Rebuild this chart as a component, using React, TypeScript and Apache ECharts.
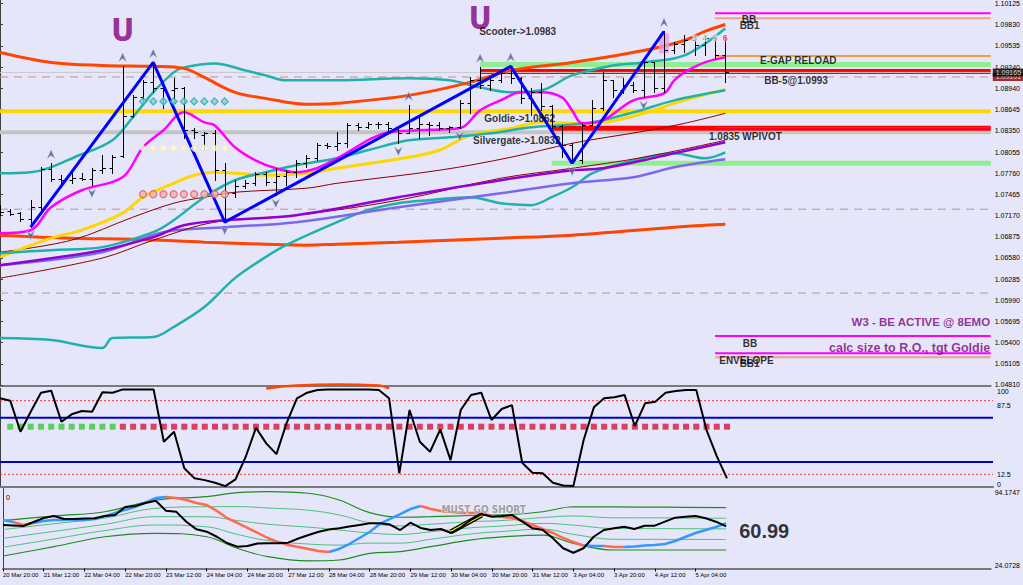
import React, { useEffect, useRef } from 'react';
import * as echarts from 'echarts';

// ---------- DATA ----------
const timeLabels = ['20 Mar 20:00', '21 Mar 12:00', '22 Mar 04:00', '22 Mar 20:00', '23 Mar 12:00', '24 Mar 04:00', '24 Mar 20:00', '27 Mar 12:00', '28 Mar 04:00', '28 Mar 20:00', '29 Mar 12:00', '30 Mar 04:00', '30 Mar 20:00', '31 Mar 12:00', '3 Apr 04:00', '3 Apr 20:00', '4 Apr 12:00', '5 Apr 04:00'];
const barsPerTimeLabel = 4;

const priceTicks = [1.04810, 1.05105, 1.05400, 1.05695, 1.05990, 1.06285, 1.06580, 1.06875, 1.07170, 1.07465, 1.07760, 1.08055, 1.08350, 1.08645, 1.08940, 1.09240, 1.09535, 1.09830, 1.10125];

// [open, high, low, close] H4 bars
const ohlc = [
  [1.07245, 1.07314, 1.07175, 1.07217], [1.07231, 1.07259, 1.07175, 1.07189], [1.07203, 1.07217, 1.07091, 1.07119], [1.07119, 1.07384, 1.07008, 1.07286],
  [1.07286, 1.07843, 1.07217, 1.07815], [1.07815, 1.07899, 1.07648, 1.07676], [1.07676, 1.07732, 1.07579, 1.07662], [1.07662, 1.07760, 1.07620, 1.07690],
  [1.07690, 1.07760, 1.07662, 1.07676], [1.07676, 1.07829, 1.07593, 1.07801], [1.07801, 1.08010, 1.07760, 1.07829], [1.07829, 1.08010, 1.07760, 1.07982],
  [1.07996, 1.09249, 1.07982, 1.08553], [1.08553, 1.08845, 1.08539, 1.08817], [1.08817, 1.09054, 1.08734, 1.09026], [1.09026, 1.09304, 1.08887, 1.08942],
  [1.08942, 1.09026, 1.08664, 1.08915], [1.08915, 1.09082, 1.08734, 1.08942], [1.08942, 1.08956, 1.08247, 1.08358], [1.08358, 1.08386, 1.08247, 1.08330],
  [1.08288, 1.08330, 1.08080, 1.08316], [1.08316, 1.08358, 1.07662, 1.07801], [1.07801, 1.07899, 1.07078, 1.07481], [1.07481, 1.07662, 1.07426, 1.07579],
  [1.07579, 1.07662, 1.07551, 1.07620], [1.07620, 1.07774, 1.07593, 1.07746], [1.07746, 1.07774, 1.07593, 1.07634], [1.07634, 1.07829, 1.07454, 1.07718],
  [1.07718, 1.07801, 1.07593, 1.07774], [1.07774, 1.07940, 1.07704, 1.07899], [1.07899, 1.08010, 1.07843, 1.07968], [1.07968, 1.08177, 1.07940, 1.08149],
  [1.08149, 1.08177, 1.08107, 1.08135], [1.08135, 1.08330, 1.08080, 1.08177], [1.08177, 1.08455, 1.08121, 1.08428], [1.08428, 1.08455, 1.08358, 1.08400],
  [1.08400, 1.08469, 1.08386, 1.08441], [1.08441, 1.08469, 1.08386, 1.08441], [1.08441, 1.08469, 1.08330, 1.08386], [1.08386, 1.08400, 1.08177, 1.08316],
  [1.08316, 1.08706, 1.08316, 1.08386], [1.08386, 1.08567, 1.08247, 1.08441], [1.08441, 1.08469, 1.08288, 1.08428], [1.08428, 1.08469, 1.08358, 1.08386],
  [1.08386, 1.08414, 1.08330, 1.08400], [1.08400, 1.08775, 1.08386, 1.08734], [1.08734, 1.09095, 1.08594, 1.09054], [1.09054, 1.09235, 1.08942, 1.08984],
  [1.08984, 1.09095, 1.08915, 1.09054], [1.09054, 1.09193, 1.09026, 1.09151], [1.09151, 1.09249, 1.09012, 1.09082], [1.09082, 1.09095, 1.08734, 1.08803],
  [1.08803, 1.08942, 1.08567, 1.08887], [1.08887, 1.09012, 1.08636, 1.08692], [1.08692, 1.08706, 1.08386, 1.08414], [1.08414, 1.08428, 1.07982, 1.08149],
  [1.08149, 1.08177, 1.07899, 1.07940], [1.07940, 1.08455, 1.07899, 1.08428], [1.08428, 1.08775, 1.08428, 1.08664], [1.08664, 1.09165, 1.08636, 1.09054],
  [1.09054, 1.09054, 1.08817, 1.08915], [1.08915, 1.09082, 1.08873, 1.08984], [1.08984, 1.09026, 1.08887, 1.08915], [1.08915, 1.09332, 1.08817, 1.09304],
  [1.09304, 1.09304, 1.08887, 1.08942], [1.08942, 1.09736, 1.08887, 1.09471], [1.09471, 1.09583, 1.09429, 1.09555], [1.09555, 1.09680, 1.09443, 1.09610],
  [1.09610, 1.09680, 1.09402, 1.09541], [1.09541, 1.09680, 1.09402, 1.09638], [1.09638, 1.09652, 1.09360, 1.09402], [1.09402, 1.09680, 1.09026, 1.09165],
];

// main-chart indicator lines: [bar, price]
const envUpper = [[0, 1.09443], [5, 1.09304], [10, 1.09262], [15, 1.09249], [18, 1.09221], [20, 1.09095], [23, 1.08887], [26, 1.08803], [30, 1.08720], [33, 1.08734], [40, 1.08845], [46, 1.09026], [50, 1.09193], [56, 1.09304], [63, 1.09471], [67, 1.09610], [69, 1.09736], [71, 1.09833]];
const envLower = [[0, 1.06897], [7, 1.06855], [13, 1.06841], [20, 1.06799], [26, 1.06771], [30, 1.06758], [33, 1.06771], [39, 1.06799], [49, 1.06855], [56, 1.06897], [66, 1.07008], [71, 1.07050]];
const bbUpper = [[0, 1.07760], [3, 1.07774], [8, 1.08024], [11, 1.08219], [13, 1.08539], [15, 1.08887], [17, 1.09165], [18, 1.09235], [21, 1.09290], [24, 1.09193], [26, 1.09123], [28, 1.09054], [33, 1.09054], [40, 1.09082], [44, 1.09054], [47, 1.08956], [50, 1.08887], [53, 1.08915], [56, 1.09123], [60, 1.09262], [63, 1.09304], [67, 1.09402], [71, 1.09777]];
const bbMiddle = [[0, 1.06646], [5, 1.06688], [10, 1.06730], [15, 1.06939], [17, 1.07105], [20, 1.07426], [23, 1.07662], [26, 1.07774], [29, 1.07871], [33, 1.07968], [36, 1.08080], [40, 1.08219], [44, 1.08261], [48, 1.08316], [52, 1.08400], [55, 1.08428], [58, 1.08469], [62, 1.08608], [66, 1.08775], [71, 1.08915]];
const bbLower = [[0, 1.05463], [5, 1.05435], [10, 1.05324], [11, 1.05463], [15, 1.05477], [17, 1.05617], [20, 1.05895], [23, 1.06298], [26, 1.06591], [28, 1.06758], [33, 1.07078], [36, 1.07245], [39, 1.07342], [42, 1.07384], [46, 1.07426], [49, 1.07342], [52, 1.07314], [54, 1.07426], [56, 1.07565], [58, 1.07760], [61, 1.07899], [66, 1.08038], [69, 1.07968], [71, 1.08052]];
const fastMa = [[0, 1.06925], [3, 1.06966], [5, 1.07286], [8, 1.07523], [12, 1.07704], [14, 1.08121], [16, 1.08358], [18, 1.08608], [20, 1.08469], [21, 1.08428], [23, 1.08121], [25, 1.07940], [27, 1.07829], [29, 1.07774], [31, 1.07829], [33, 1.07968], [38, 1.08330], [41, 1.08358], [45, 1.08386], [47, 1.08636], [49, 1.08775], [51, 1.08887], [53, 1.08887], [55, 1.08817], [56, 1.08636], [57, 1.08455], [59, 1.08497], [62, 1.08775], [65, 1.08873], [66, 1.09054], [67, 1.09165], [69, 1.09304], [71, 1.09374]];
const goldMa = [[0, 1.06591], [5, 1.06855], [8, 1.06966], [12, 1.07203], [14, 1.07426], [17, 1.07620], [19, 1.07732], [21, 1.07774], [23, 1.07760], [26, 1.07732], [30, 1.07760], [33, 1.07829], [40, 1.07982], [43, 1.08080], [46, 1.08288], [50, 1.08386], [53, 1.08469], [56, 1.08455], [59, 1.08469], [63, 1.08594], [66, 1.08734], [71, 1.08928]];
const redMaA = [[0, 1.06660], [7, 1.06827], [13, 1.07147], [17, 1.07342], [20, 1.07426], [23, 1.07495], [30, 1.07551], [33, 1.07620], [43, 1.07801], [50, 1.07982], [56, 1.08177], [63, 1.08344], [67, 1.08455], [71, 1.08594]];
const redMaB = [[0, 1.06298], [10, 1.06577], [15, 1.06827], [21, 1.07078], [29, 1.07175], [39, 1.07384], [49, 1.07690], [56, 1.07829], [63, 1.07982], [71, 1.08219]];
const violetMa = [[0, 1.06479], [10, 1.06688], [15, 1.06869], [18, 1.07036], [22, 1.07105], [29, 1.07175], [39, 1.07426], [49, 1.07662], [56, 1.07801], [59, 1.07829], [63, 1.07940], [66, 1.08038], [71, 1.08191]];
const slateMa = [[0, 1.06479], [10, 1.06660], [16, 1.06939], [22, 1.07008], [29, 1.07078], [39, 1.07286], [49, 1.07481], [56, 1.07620], [62, 1.07704], [66, 1.07843], [71, 1.07954]];
const zigzag = [[3, 1.07008], [15, 1.09304], [22, 1.07078], [50, 1.09249], [56, 1.07899], [65, 1.09736]];

const upFractalBars = [5, 12, 15, 40, 47, 50, 65];
const downFractalBars = [3, 9, 22, 27, 39, 45, 56, 63];

const patternBars = [14, 15, 16, 17, 18, 19, 20, 21, 22];
const tealDiamondPrice = 1.08761;
const yellowDiamondPrice = 1.08107;
const redMarkPrice = 1.07467;

// horizontal levels
const levelPrices = [1.08622, 1.08330, 1.07259, 1.06090, 1.09276, 1.09179, 1.08386, 1.07899, 1.09990, 1.09921, 1.09392, 1.08395, 1.05491, 1.05251, 1.05195];
const levelStartBars = [0, 0, 0, 0, 47, 47, 54, 54, 70, 70, 70, 70, 70, 70, 70];
const askLinePrice = 1.09101;

// text annotations on price chart
const annTexts = ['U', 'U', 'Scooter->1.0983', 'Goldie->1.0862', 'Silvergate->1.0832', 'E-GAP RELOAD', 'BB-5@1.0993', 'BB', 'BB1', '1.0835 WPIVOT', 'BB', 'ENVELOPE', 'BB1'];
const annBars = [12, 47, 46.9, 47.4, 46.3, 74.4, 74.8, 72.6, 72.4, 69.4, 72.7, 70.4, 72.4];
const annPrices = [1.09750, 1.09917, 1.09736, 1.08525, 1.08219, 1.09332, 1.09054, 1.09903, 1.09819, 1.08274, 1.05394, 1.05157, 1.05115];
const noteTexts = ['W3 - BE ACTIVE @ 8EMO', 'calc size to R.O., tgt Goldie'];
const notePrices = [1.05686, 1.05324];
const counterTexts = ['3', '4', '5', '6'];
const counterBars = [68, 69, 70, 71];
const counterPrice = 1.09638;
const pinkMarkBar = 65;
const pinkMarkPrice = 1.09569;

// stochastic panel
const stochK = [90, 87.5, 55.9, 76.2, 95.6, 97.7, 66.1, 73.6, 77, 76.2, 96, 95.6, 99, 99, 99, 99, 45.7, 55.9, 18.6, 8.4, 6.6, 3.9, 0.5, 7.3, 30.4, 59.9, 44, 33.1, 65, 89.9, 95.6, 98.4, 99, 99, 99, 99, 99, 98.4, 89.9, 13.5, 78, 45.7, 35.5, 58.3, 27, 78, 93.3, 95.6, 67.8, 79, 83, 24.3, 14.1, 13.5, 3.9, 1.2, 0.5, 47.4, 80.7, 89.9, 90.9, 93.3, 61.7, 84.8, 86.4, 95.6, 97.3, 98.4, 98.4, 57.6, 31.1, 8.4];
const stochBlueLevels = [70, 25];
const stochRedLevels = [87.5, 12.5];
const stochLabelValues = [0, 12.5, 87.5, 100];
const stochDotLevel = 61;
const greenDotBars = [1, 2, 3, 4, 5, 6, 7, 8, 9, 10, 11];
const redDotFirst = 12;
const redDotLast = 71;
const stochArc = [[26, 100], [29, 103], [33, 104], [37, 103], [38, 100]];

// TDI panel
const tdiMin = 24.0728;
const tdiMax = 94.1747;
const tdiPrice = [62.2, 61.8, 61.3, 64.8, 68.3, 70.1, 67.5, 67.5, 67.9, 68.1, 70.1, 70.9, 78.0, 78.8, 81.5, 83.5, 74.7, 73.9, 65.1, 58.4, 56.3, 51.9, 46.4, 43.2, 43.8, 46.0, 46.2, 46.2, 46.7, 50.4, 53.4, 56.3, 58.2, 59.3, 60.9, 62.2, 63.7, 63.7, 62.6, 57.8, 64.2, 59.6, 57.8, 58.7, 55.2, 60.4, 67.0, 71.8, 69.5, 70.1, 70.9, 65.1, 59.3, 57.8, 50.5, 41.8, 37.9, 41.8, 51.9, 57.8, 59.3, 60.7, 58.7, 61.6, 61.6, 65.1, 68.6, 69.5, 70.1, 68.1, 65.1, 60.99];
const tdiSignal = [66.6, 64.8, 62.2, 64.0, 65.7, 66.6, 66.6, 66.6, 66.6, 67.5, 70.0, 72.7, 75.5, 78.0, 82.0, 85.8, 86.7, 85.8, 84.1, 81.5, 79.7, 74.5, 68.3, 64.0, 59.6, 55.2, 50.8, 47.3, 44.7, 42.9, 41.2, 39.4, 38.5, 41.2, 45.5, 50.8, 56.1, 63.1, 67.5, 71.8, 76.2, 78.8, 76.2, 74.5, 73.6, 72.7, 72.7, 72.7, 70.1, 69.2, 68.3, 65.7, 62.2, 58.7, 55.2, 50.8, 47.3, 44.2, 43.8, 43.8, 42.9, 42.9, 43.4, 44.2, 44.7, 45.5, 48.2, 51.7, 55.2, 57.8, 60.4, 63.7];
const signalSegStart = [0, 1, 3, 16, 32, 41, 57, 59, 61];
const signalSegEnd = [1, 3, 16, 32, 41, 57, 59, 61, 71];
const signalSegDir = ['up', 'down', 'up', 'down', 'up', 'down', 'up', 'down', 'up'];
const tdiUpper = [[0, 66.0], [5, 70.1], [10, 73.8], [15, 84.1], [20, 87.0], [23, 90.5], [26, 91.4], [30, 90.0], [33, 84.1], [36, 73.0], [39, 69.0], [42, 69.5], [46, 70.5], [49, 71.0], [53, 73.8], [56, 78.2], [60, 78.0], [65, 77.8], [71, 77.4]];
const tdiMidUp = [[0, 58.2], [5, 63.3], [10, 68.3], [15, 76.8], [20, 78.2], [23, 78.3], [26, 77.1], [30, 75.1], [33, 71.0], [36, 64.1], [39, 61.4], [42, 62.9], [46, 65.1], [49, 66.1], [53, 68.7], [56, 70.1], [60, 68.5], [65, 68.4], [71, 68.1]];
const tdiMid = [[0, 50.5], [5, 56.6], [10, 62.8], [15, 69.5], [20, 69.4], [23, 66.1], [26, 62.9], [30, 60.3], [33, 57.8], [36, 55.2], [39, 53.9], [42, 56.3], [46, 59.8], [49, 61.3], [53, 63.6], [56, 62.1], [60, 59.1], [65, 59.0], [71, 58.8]];
const tdiMidLow = [[0, 42.7], [5, 49.9], [10, 57.3], [15, 62.2], [20, 60.6], [23, 54.0], [26, 48.6], [30, 45.5], [33, 44.6], [36, 46.3], [39, 46.3], [42, 49.7], [46, 54.4], [49, 56.5], [53, 58.5], [56, 54.0], [60, 49.7], [65, 49.6], [71, 49.5]];
const tdiLower = [[0, 35.0], [5, 43.2], [10, 51.9], [15, 54.9], [20, 51.9], [23, 41.8], [26, 34.4], [30, 30.7], [33, 31.5], [36, 37.4], [39, 38.8], [42, 43.2], [46, 49.1], [49, 51.7], [53, 53.4], [56, 46.0], [60, 40.3], [65, 40.3], [71, 40.3]];
const crossSegment = [[44, 56.3], [47, 71.0]];
const crossText = 'MUST GO SHORT';
const crossTextBar = 47.2;
const crossTextLevel = 76.2;

// ---------- AXIS EXTENTS ----------
const X_MIN = 0;
const X_MAX = 96.98;
const Y_MIN = 1.04795;
const Y_MAX = 1.10167;

const FONT = "'Liberation Sans', Arial, sans-serif";
const NARROW = "'Liberation Sans Narrow', 'DejaVu Sans Condensed', 'Liberation Sans', sans-serif";

const levelStyles = [
  { color: '#FFD700', width: 4 },
  { color: '#C4C4C4', width: 4 },
  { color: '#C09090', width: 1, type: [8, 6] },
  { color: '#C09090', width: 1, type: [8, 6] },
  { color: '#90EE90', width: 5 },
  { color: '#FF0000', width: 5 },
  { color: '#FF0000', width: 5 },
  { color: '#90EE90', width: 5 },
  { color: '#FF00FF', width: 2 },
  { color: '#F4A080', width: 2 },
  { color: '#F0A040', width: 2 },
  { color: '#FF00FF', width: 1 },
  { color: '#FF00FF', width: 2 },
  { color: '#FF00FF', width: 2 },
  { color: '#F4A080', width: 2 },
];

function mainLine(data: number[][], color: string, width: number, z = 3, extra: any = {}) {
  return {
    type: 'line', xAxisIndex: 0, yAxisIndex: 0, data, symbol: 'none', smooth: 0.35, silent: true,
    lineStyle: { color, width }, z, ...extra,
  };
}

function panelLine(axis: number, data: any[], color: string, width: number, z = 3, extra: any = {}) {
  return {
    type: 'line', xAxisIndex: axis, yAxisIndex: axis, data, symbol: 'none', silent: true,
    lineStyle: { color, width }, z, ...extra,
  };
}

function buildOption() {
  const series: any[] = [];
  const lastClose = ohlc[ohlc.length - 1][3];

  // horizontal levels
  levelPrices.forEach((p, k) => {
    const st = levelStyles[k];
    series.push({
      type: 'line', xAxisIndex: 0, yAxisIndex: 0, symbol: 'none', silent: true, z: 1,
      data: [[levelStartBars[k], p], [X_MAX, p]],
      lineStyle: { color: st.color, width: st.width, type: (st as any).type || 'solid' },
    });
  });

  // ask (dashed) and bid lines
  series.push({
    type: 'line', xAxisIndex: 0, yAxisIndex: 0, symbol: 'none', silent: true, z: 2,
    data: [[X_MIN, askLinePrice], [X_MAX, askLinePrice]],
    lineStyle: { color: '#C09090', width: 1, type: [8, 6] },
  });
  series.push({
    type: 'line', xAxisIndex: 0, yAxisIndex: 0, symbol: 'none', silent: true, z: 2,
    data: [[X_MIN, lastClose], [X_MAX, lastClose]],
    lineStyle: { color: '#C8C8C8', width: 1 },
  });

  // indicator lines
  series.push(mainLine(envLower, '#FF4500', 3));
  series.push(mainLine(bbLower, '#20B2AA', 2.5));
  series.push(mainLine(slateMa, '#7B68EE', 2.5));
  series.push(mainLine(redMaB, '#8B0000', 1));
  series.push(mainLine(violetMa, '#9400D3', 2.5));
  series.push(mainLine(redMaA, '#8B0000', 1));
  series.push(mainLine(goldMa, '#FFD700', 3));
  series.push(mainLine(bbMiddle, '#20B2AA', 2.5));
  series.push(mainLine(bbUpper, '#20B2AA', 2.5));
  series.push(mainLine(fastMa, '#FF00FF', 2.5));
  series.push(mainLine(envUpper, '#FF4500', 3));

  // OHLC bars
  series.push({
    type: 'custom', xAxisIndex: 0, yAxisIndex: 0, z: 5, silent: true, clip: true,
    data: ohlc.map((d, i) => [i, d[0], d[1], d[2], d[3]]),
    encode: { x: 0, y: [1, 2, 3, 4] },
    renderItem: (_params: any, api: any) => {
      const i = api.value(0);
      const pO = api.coord([i, api.value(1)]);
      const pH = api.coord([i, api.value(2)]);
      const pL = api.coord([i, api.value(3)]);
      const pC = api.coord([i, api.value(4)]);
      const x = Math.round(pH[0]) + 0.5;
      const yo = Math.round(pO[1]) + 0.5;
      const yc = Math.round(pC[1]) + 0.5;
      const st = { stroke: '#000000', lineWidth: 1 };
      return {
        type: 'group',
        children: [
          { type: 'line', shape: { x1: x, y1: Math.round(pH[1]), x2: x, y2: Math.round(pL[1]) + 1 }, style: st },
          { type: 'line', shape: { x1: x - 3, y1: yo, x2: x, y2: yo }, style: st },
          { type: 'line', shape: { x1: x, y1: yc, x2: x + 3.5, y2: yc }, style: st },
        ],
      };
    },
  });

  // zigzag
  series.push({
    type: 'line', xAxisIndex: 0, yAxisIndex: 0, data: zigzag, symbol: 'none', silent: true, z: 6,
    lineStyle: { color: '#0000FF', width: 3 },
  });

  // fractal arrows
  const arrow = 'path://M5,0 L10,11 L5,7 L0,11 Z';
  series.push({
    type: 'scatter', xAxisIndex: 0, yAxisIndex: 0, silent: true, z: 7,
    data: upFractalBars.map((i) => [i, ohlc[i][1]]),
    symbol: arrow, symbolSize: [8, 9], symbolOffset: [0, -9],
    itemStyle: { color: '#4A5890', borderColor: '#C8CCE8', borderWidth: 0.5 },
  });
  series.push({
    type: 'scatter', xAxisIndex: 0, yAxisIndex: 0, silent: true, z: 7,
    data: downFractalBars.map((i) => [i, ohlc[i][2]]),
    symbol: arrow, symbolSize: [8, 9], symbolRotate: 180, symbolOffset: [0, 8],
    itemStyle: { color: '#4A5890', borderColor: '#C8CCE8', borderWidth: 0.5 },
  });

  // dotted patterns
  series.push({
    type: 'scatter', xAxisIndex: 0, yAxisIndex: 0, silent: true, z: 7,
    data: patternBars.map((i) => [i, tealDiamondPrice]), symbol: 'diamond', symbolSize: 7,
    itemStyle: { color: '#7FD4D4', borderColor: '#1FA5A5', borderWidth: 1.2 },
  });
  series.push({
    type: 'scatter', xAxisIndex: 0, yAxisIndex: 0, silent: true, z: 7,
    data: patternBars.map((i) => [i, yellowDiamondPrice]), symbol: 'diamond', symbolSize: 7,
    itemStyle: { color: '#FFFBD0', borderColor: '#F3E8A8', borderWidth: 1 },
  });
  series.push({
    type: 'scatter', xAxisIndex: 0, yAxisIndex: 0, silent: true, z: 7,
    data: patternBars.map((i) => [i, redMarkPrice]), symbol: 'circle', symbolSize: 7,
    itemStyle: { color: '#F4B0B0', borderColor: '#D85858', borderWidth: 1.2 },
  });

  // pink mark on top bar
  series.push({
    type: 'scatter', xAxisIndex: 0, yAxisIndex: 0, silent: true, z: 4,
    data: [[pinkMarkBar, pinkMarkPrice]], symbol: 'rect', symbolSize: [10, 20],
    itemStyle: { color: '#F09AE8' },
  });

  // price boxes on the axis
  series.push({
    type: 'scatter', xAxisIndex: 0, yAxisIndex: 0, silent: true, z: 20, symbolSize: 0.1,
    itemStyle: { color: 'transparent' },
    data: [
      {
        name: askLinePrice.toFixed(5), value: [X_MAX, askLinePrice],
        label: { show: true, position: 'right', distance: 2, formatter: '{b}', backgroundColor: '#8B0000', color: '#FFE8E8', fontSize: 7, fontFamily: FONT, padding: [1, 3, 0, 3] },
      },
      {
        name: lastClose.toFixed(5), value: [X_MAX, lastClose],
        label: { show: true, position: 'right', distance: 2, formatter: '{b}', backgroundColor: '#000000', color: '#FFFFFF', fontSize: 7, fontFamily: FONT, padding: [1, 3, 0, 3] },
      },
    ],
  });

  // annotations
  series.push({
    type: 'scatter', xAxisIndex: 0, yAxisIndex: 0, silent: true, z: 10, symbolSize: 0.1,
    itemStyle: { color: 'transparent' },
    data: annTexts.map((t, k) => {
      const isU = t === 'U';
      return {
        name: t, value: [annBars[k], annPrices[k]],
        label: isU
          ? { show: true, position: 'inside', formatter: '{b}', color: '#800080', fontSize: 32, fontWeight: 'bold', fontFamily: NARROW }
          : { show: true, position: 'right', distance: 0, formatter: '{b}', color: '#000000', fontSize: 10, fontWeight: 'bold', fontFamily: FONT },
      };
    }),
  });
  series.push({
    type: 'scatter', xAxisIndex: 0, yAxisIndex: 0, silent: true, z: 10, symbolSize: 0.1,
    itemStyle: { color: 'transparent' },
    data: noteTexts.map((t, k) => ({
      name: t, value: [X_MAX - 0.05, notePrices[k]],
      label: { show: true, position: 'left', distance: 0, formatter: '{b}', color: '#800080', fontSize: k === 0 ? 11.5 : 12.5, fontWeight: 'bold', fontFamily: FONT },
    })),
  });
  series.push({
    type: 'scatter', xAxisIndex: 0, yAxisIndex: 0, silent: true, z: 10, symbolSize: 0.1,
    itemStyle: { color: 'transparent' },
    data: counterTexts.map((t, k) => ({
      name: t, value: [counterBars[k], counterPrice],
      label: { show: true, position: 'inside', formatter: '{b}', color: k === counterTexts.length - 1 ? '#DD2244' : '#9A9A9A', fontSize: 9, fontWeight: 'bold', fontFamily: FONT, textBorderColor: '#FFFFFF', textBorderWidth: 1 },
    })),
  });

  // ---- stochastic panel ----
  stochRedLevels.forEach((v) => series.push(panelLine(1, [[X_MIN, v], [X_MAX, v]], '#FF3030', 1, 1, { lineStyle: { color: '#FF3030', width: 1, type: [2, 2] } })));
  stochBlueLevels.forEach((v) => series.push(panelLine(1, [[X_MIN, v], [X_MAX, v]], '#0000CD', 2, 1)));
  const redDots: number[][] = [];
  for (let i = redDotFirst; i <= redDotLast; i++) redDots.push([i, stochDotLevel]);
  series.push({
    type: 'scatter', xAxisIndex: 1, yAxisIndex: 1, silent: true, z: 2, symbol: 'rect', symbolSize: 6,
    data: greenDotBars.map((i) => [i, stochDotLevel]), itemStyle: { color: '#32CD32' },
  });
  series.push({
    type: 'scatter', xAxisIndex: 1, yAxisIndex: 1, silent: true, z: 2, symbol: 'rect', symbolSize: 6,
    data: redDots, itemStyle: { color: '#DC143C' },
  });
  series.push(panelLine(1, stochK.map((v, i) => [i, v]), '#000000', 2, 4));
  series.push(panelLine(1, stochArc, '#FF4500', 2.5, 4, { clip: false, smooth: 0.5 }));

  // ---- TDI panel ----
  series.push(panelLine(2, tdiUpper, '#1E8C1E', 1.2, 2, { smooth: 0.4 }));
  series.push(panelLine(2, tdiMidUp, '#4CC07A', 1, 2, { smooth: 0.4 }));
  series.push(panelLine(2, tdiMid, '#4CC07A', 1, 2, { smooth: 0.4 }));
  series.push(panelLine(2, tdiMidLow, '#4CC07A', 1, 2, { smooth: 0.4 }));
  series.push(panelLine(2, tdiLower, '#1E8C1E', 1.2, 2, { smooth: 0.4 }));
  signalSegStart.forEach((s, k) => {
    const seg: number[][] = [];
    for (let i = s; i <= signalSegEnd[k]; i++) seg.push([i, tdiSignal[i]]);
    series.push(panelLine(2, seg, signalSegDir[k] === 'up' ? '#3399FF' : '#FF6A4A', 2.5, 3));
  });
  series.push(panelLine(2, crossSegment, '#000000', 5, 4));
  series.push(panelLine(2, crossSegment, '#FFFF00', 2.5, 5));
  series.push(panelLine(2, tdiPrice.map((v, i) => [i, v]), '#000000', 2, 6));
  series.push({
    type: 'scatter', xAxisIndex: 2, yAxisIndex: 2, silent: true, z: 10, symbolSize: 0.1,
    itemStyle: { color: 'transparent' },
    data: [
      {
        name: tdiPrice[tdiPrice.length - 1].toFixed(2), value: [tdiPrice.length - 1, tdiPrice[tdiPrice.length - 1]],
        label: { show: true, position: 'right', distance: 0, offset: [13, 5], formatter: '{b}', color: '#000000', fontSize: 20, fontWeight: 'bold', fontFamily: FONT },
      },
      {
        name: crossText, value: [crossTextBar, crossTextLevel],
        label: { show: true, position: 'inside', formatter: '{b}', color: '#8A8A8A', fontSize: 10, fontWeight: 'bold', fontFamily: NARROW, textBorderColor: '#F4F4F4', textBorderWidth: 1 },
      },
    ],
  });

  const xBase = (gi: number) => ({
    type: 'value', gridIndex: gi, min: X_MIN, max: X_MAX,
    splitLine: { show: false }, axisTick: { show: false }, axisLabel: { show: false },
    axisLine: { show: true, onZero: false, lineStyle: { color: '#7A7A7A', width: 2 } },
  });
  const timeTicks = timeLabels.map((_, k) => k * barsPerTimeLabel);

  const yBase = (gi: number, min: number, max: number) => ({
    type: 'value', gridIndex: gi, position: 'right', min, max,
    splitLine: { show: false },
    axisLine: { show: true, lineStyle: { color: '#404040', width: 1 } },
  });
  const lbl = (pad: number[]) => ({ fontSize: 7, color: '#000000', fontFamily: FONT, padding: pad });

  return {
    animation: false,
    backgroundColor: '#E6E6FA',
    title: { text: '0', left: 1, top: 489, textStyle: { fontSize: 7, fontWeight: 'normal', color: '#000000', fontFamily: FONT } },
    grid: [
      { left: -4, right: 30, top: 0, height: 386 },
      { left: -4, right: 30, top: 388.4, height: 98.2 },
      { left: -4, right: 30, top: 488.5, height: 80 },
    ],
    xAxis: [
      xBase(0),
      xBase(1),
      {
        ...xBase(2),
        axisTick: { show: true, customValues: timeTicks, length: 3, lineStyle: { color: '#000000' } },
        axisLabel: {
          show: true, customValues: timeTicks, align: 'left', margin: 3, fontSize: 6, color: '#000000', fontFamily: FONT,
          formatter: (v: number) => timeLabels[Math.round(v / barsPerTimeLabel)] || '',
        },
      },
    ],
    yAxis: [
      {
        ...yBase(0, Y_MIN, Y_MAX),
        axisTick: { show: true, customValues: priceTicks, length: 3, lineStyle: { color: '#404040' } },
        axisLabel: { customValues: priceTicks, formatter: (v: number) => v.toFixed(5), fontSize: 7, color: '#000000', fontFamily: FONT, margin: 4 },
      },
      {
        ...yBase(1, 0, 100),
        axisTick: { show: false },
        axisLabel: {
          customValues: stochLabelValues, margin: 4,
          formatter: (v: number) => (v === 100 ? '{t|100}' : v === 87.5 ? '{m|87.5}' : v === 0 ? '{b|0}' : `{n|${v}}`),
          rich: { t: lbl([7, 0, 0, 0]), m: lbl([10, 0, 0, 0]), b: lbl([0, 0, 5, 0]), n: lbl([0, 0, 0, 0]) },
        },
      },
      {
        ...yBase(2, tdiMin, tdiMax),
        axisTick: { show: false },
        axisLabel: {
          customValues: [tdiMin, tdiMax], margin: 4,
          formatter: (v: number) => (v === tdiMax ? `{t|${v.toFixed(4)}}` : `{b|${v.toFixed(4)}}`),
          rich: { t: lbl([8, 0, 0, 0]), b: lbl([0, 0, 6, 0]) },
        },
      },
    ],
    series,
  };
}

export default function App() {
  const ref = useRef<HTMLDivElement>(null);
  useEffect(() => {
    if (!ref.current) return;
    const chart = echarts.init(ref.current, null, { renderer: 'svg' });
    chart.setOption(buildOption() as any);
    return () => chart.dispose();
  }, []);
  return <div ref={ref} style={{ position: 'fixed', left: 0, top: 0, width: 1023, height: 585 }} />;
}
